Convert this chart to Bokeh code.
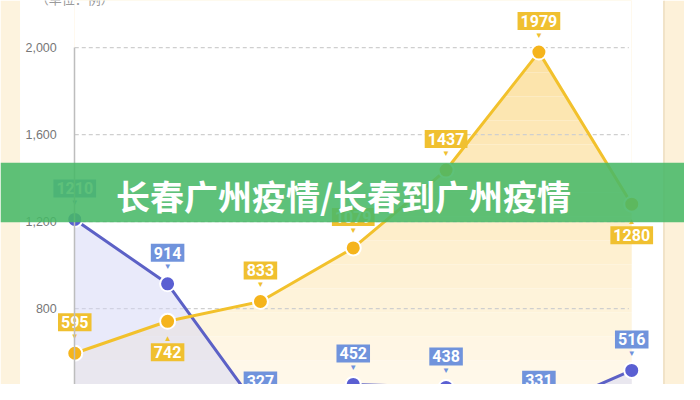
from bokeh.plotting import figure
from bokeh.models import (Range1d, FixedTicker, NumeralTickFormatter, BoxAnnotation,
                          Span, Label, ColumnDataSource)
from bokeh.core.properties import value
from bokeh.embed import file_html
from bokeh.resources import INLINE

# ---- data ----
categories = ["1", "2", "3", "4", "5", "6", "7"]
series_yellow = [595, 742, 833, 1079, 1437, 1979, 1280]
series_blue = [1210, 914, 327, 452, 438, 331, 516]
yellow_label_side = ["above", "below", "above", "above", "above", "above", "below"]
blue_label_side = ["above"] * 7
y_ticks = [400, 800, 1200, 1600, 2000]
unit_text = "（单位：例）"
banner_text = "长春广州疫情/长春到广州疫情"

# ---- layout geometry (reference pixels) ----
X0, DX = 76.0, 95.0              # px of first category, px per category
Y2000, K = 49.0, 272.0 / 1200.0  # px of value 2000, px per unit

def xv(px):
    return (px - X0) / DX

def yv(py):
    return 2000 - (py - Y2000) / K

W, H = 684, 384
xr = Range1d(xv(0), xv(700))
yr = Range1d(yv(400), yv(0))

p = figure(width=W, height=H, x_range=xr, y_range=yr, output_backend="svg",
           toolbar_location=None, min_border=0, outline_line_color=None,
           background_fill_color="white", border_fill_color="white")
p.xaxis.visible = False
p.grid.visible = False

idx = list(range(len(categories)))
n = len(idx)
bottom = yr.start
top = yr.end

# side strips
p.add_layout(BoxAnnotation(right=xv(20), fill_color="#fdf3de", fill_alpha=1, line_color=None, level="underlay"))
p.add_layout(BoxAnnotation(left=xv(679), fill_color="#fdf1d9", fill_alpha=1, line_color=None, level="underlay"))
p.add_layout(Span(location=xv(679), dimension="height", line_color="#f1e3c8", line_width=2, level="underlay"))

# vertical gradient for the yellow area (bands), masked above the line with white
c_lo = (255, 249, 236)
c_hi = (252, 226, 166)
nb = 16
for b in range(nb):
    lo = bottom + (top - bottom) * b / nb
    hi = bottom + (top - bottom) * (b + 1) / nb
    t = min(1.0, (b + 0.5) / (nb * 0.85))
    col = tuple(int(round(c_lo[i] + (c_hi[i] - c_lo[i]) * t)) for i in range(3))
    p.add_layout(BoxAnnotation(left=0, right=n - 1, bottom=lo, top=hi,
                               fill_color="#%02x%02x%02x" % col, fill_alpha=1,
                               line_color=None, level="underlay"))
p.varea(x=idx, y1=series_yellow, y2=[top] * n, fill_color="white", fill_alpha=1)

# dashed grid lines
p.segment(x0=[0] * len(y_ticks), x1=[xv(643)] * len(y_ticks), y0=y_ticks, y1=y_ticks,
          line_color="#cfcfcf", line_width=1.2, line_dash="4 3")

# blue area
p.varea(x=idx, y1=series_blue, y2=[bottom] * n, fill_color="#d3d6f5", fill_alpha=0.5)

# lines
p.line(idx, series_blue, line_color="#5c61c6", line_width=3)
p.line(idx, series_yellow, line_color="#f2c12c", line_width=3)

# points
p.scatter(idx, series_blue, size=15, fill_color="#5a5fd2", line_color="white", line_width=2)
p.scatter(idx, series_yellow, size=15, fill_color="#f5b41c", line_color="white", line_width=2)

# y axis at first category
ax = p.yaxis[0]
ax.fixed_location = 0
ax.ticker = FixedTicker(ticks=y_ticks)
ax.formatter = NumeralTickFormatter(format="0,0")
ax.bounds = (bottom, 2000)
ax.axis_line_color = "#bdbdbd"
ax.axis_line_width = 1.5
ax.major_tick_line_color = None
ax.minor_tick_line_color = None
ax.major_label_standoff = 12
ax.major_label_text_color = "#777777"
ax.major_label_text_font = "Liberation Sans"
ax.major_label_text_font_size = "12.5px"

# value labels
def add_labels(vals, sides, color):
    offs = [-31 if s == "above" else 31 for s in sides]
    tri = ["▼" if s == "above" else "▲" for s in sides]
    toffs = [o + 14 if s == "above" else o - 14 for o, s in zip(offs, sides)]
    src = ColumnDataSource(dict(x=idx, y=vals, t=[str(v) for v in vals], off=offs,
                                tri=tri, toff=toffs))
    p.text(x="x", y="y", text="tri", y_offset="toff", source=src, text_color=color,
           text_font_size="8px", text_align="center", text_baseline="middle")
    p.text(x="x", y="y", text="t", y_offset="off", source=src, text_color="white",
           text_font=value("Roboto"), text_font_style="bold", text_font_size="16px",
           text_align="center", text_baseline="middle",
           background_fill_color=color, padding=[3, 3, 3, 3])

add_labels(series_blue, blue_label_side, "#7093dc")
add_labels(series_yellow, yellow_label_side, "#f0c030")

# unit text at top-left
p.add_layout(Label(x=xv(36), y=yv(8), text=unit_text, text_color="#9a9a9a",
                   text_font="Noto Sans CJK SC", text_font_size="13px",
                   text_baseline="bottom"))

# banner
p.add_layout(BoxAnnotation(top=yv(169), bottom=yv(231), fill_color="#48b868",
                           fill_alpha=0.88, line_color=None))
p.add_layout(Label(x=xv(351), y=yv(203), text=banner_text, text_color="white",
                   text_font="Noto Sans CJK SC", text_font_style="bold",
                   text_font_size="34px", text_align="center", text_baseline="middle"))

open("out.html", "w").write(file_html(p, INLINE))
